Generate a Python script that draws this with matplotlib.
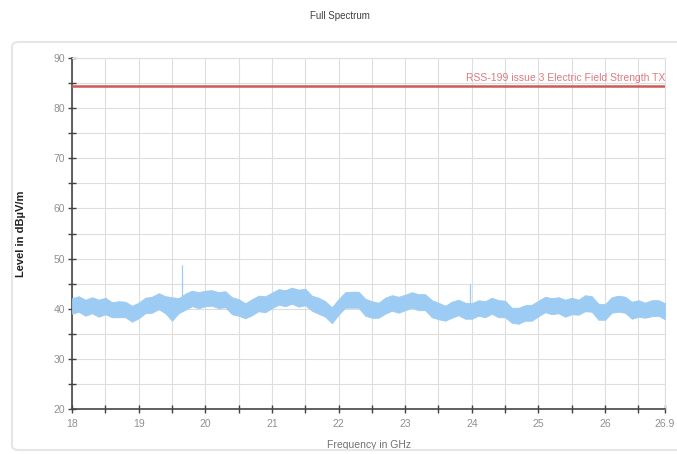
import matplotlib
matplotlib.use('Agg')
import matplotlib.pyplot as plt
from matplotlib.patches import FancyBboxPatch

plt.rcParams['font.family'] = ['Liberation Sans', 'DejaVu Sans']

# Trace (dBuV/m), upper / lower edge of the noise band
freq = [18.0, 18.1, 18.2, 18.3, 18.4, 18.5, 18.6, 18.7, 18.8, 18.9,
        19.0, 19.1, 19.2, 19.3, 19.4, 19.5, 19.6, 19.7, 19.8, 19.9,
        20.0, 20.1, 20.2, 20.3, 20.4, 20.5, 20.6, 20.7, 20.8, 20.9,
        21.0, 21.1, 21.2, 21.3, 21.4, 21.5, 21.6, 21.7, 21.8, 21.9,
        22.0, 22.1, 22.2, 22.3, 22.4, 22.5, 22.6, 22.7, 22.8, 22.9,
        23.0, 23.1, 23.2, 23.3, 23.4, 23.5, 23.6, 23.7, 23.8, 23.9,
        24.0, 24.1, 24.2, 24.3, 24.4, 24.5, 24.6, 24.7, 24.8, 24.9,
        25.0, 25.1, 25.2, 25.3, 25.4, 25.5, 25.6, 25.7, 25.8, 25.9,
        26.0, 26.1, 26.2, 26.3, 26.4, 26.5, 26.6, 26.7, 26.8, 26.9]
level_hi = [42.1, 42.5, 41.8, 42.3, 41.8, 42.2, 41.3, 41.5, 41.4, 40.6,
            41.2, 42.2, 42.4, 43.1, 42.5, 42.3, 42.1, 43.0, 43.6, 43.3,
            43.6, 43.7, 43.3, 43.5, 42.3, 41.9, 41.1, 41.9, 42.6, 42.5,
            43.2, 43.9, 43.7, 44.2, 43.8, 44.0, 42.6, 42.2, 41.5, 40.3,
            41.9, 43.3, 43.4, 43.4, 42.0, 41.5, 41.2, 42.2, 42.7, 42.4,
            42.8, 43.3, 42.9, 42.9, 41.7, 41.2, 40.6, 41.4, 41.8, 41.2,
            41.1, 41.7, 41.5, 42.2, 41.7, 41.6, 40.2, 40.2, 40.7, 40.8,
            41.6, 42.4, 42.1, 42.3, 41.8, 42.2, 41.8, 42.7, 42.5, 41.0,
            40.9, 42.3, 42.6, 42.4, 41.4, 41.7, 41.2, 41.7, 41.7, 41.1]
level_lo = [39.0, 39.4, 38.6, 39.1, 38.4, 38.9, 38.3, 38.3, 38.3, 37.4,
            38.1, 39.1, 39.2, 39.9, 39.1, 37.6, 39.1, 39.8, 40.5, 40.1,
            40.5, 40.6, 40.1, 40.3, 38.9, 38.6, 38.1, 38.7, 39.5, 39.3,
            40.1, 40.8, 40.5, 41.0, 40.4, 40.7, 39.6, 39.0, 38.4, 37.1,
            38.8, 40.2, 40.2, 40.2, 38.6, 38.2, 38.2, 39.0, 39.6, 39.2,
            39.7, 40.2, 39.7, 39.7, 38.3, 37.9, 37.6, 38.2, 38.7, 38.0,
            38.0, 38.6, 38.3, 39.0, 38.3, 38.3, 37.2, 37.0, 37.6, 37.6,
            38.5, 39.3, 38.9, 39.1, 38.4, 38.9, 38.8, 39.5, 39.4, 37.8,
            37.8, 39.2, 39.4, 39.2, 38.0, 38.4, 38.2, 38.5, 38.6, 37.9]

# isolated spikes
spike_freq = [19.65, 23.97]
spike_top = [48.8, 45.0]
spike_base = [41.5, 40.0]

limit_level = 84.5
limit_label = 'RSS-199 issue 3 Electric Field Strength TX'

x_major = [18, 19, 20, 21, 22, 23, 24, 25, 26, 26.9]
x_labels = ['18', '19', '20', '21', '22', '23', '24', '25', '26', '26.9']
x_minor = [18.5, 19.5, 20.5, 21.5, 22.5, 23.5, 24.5, 25.5, 26.5]
y_major = [20, 30, 40, 50, 60, 70, 80, 90]
y_minor = [25, 35, 45, 55, 65, 75, 85]

trace_color = '#9ccbf3'
limit_color = '#cc5a55'

fig = plt.figure(figsize=(6.77, 4.54), dpi=100)
ax = fig.add_axes([0.1064, 0.0991, 0.8759, 0.7731])

# outer frame
fig.patches.append(FancyBboxPatch((12 / 677, 4 / 454), 700 / 677, 408 / 454,
                                  boxstyle='round,pad=0,rounding_size=0.01',
                                  transform=fig.transFigure, fill=False,
                                  edgecolor='#e6e6e6', linewidth=1.5))

ax.fill_between(freq, level_lo, level_hi, color=trace_color, linewidth=0.6,
                edgecolor=trace_color, zorder=3)
ax.vlines(spike_freq, spike_base, spike_top, color=trace_color, linewidth=0.9, zorder=3)

ax.axhline(limit_level, color=limit_color, linewidth=1.8, zorder=4)
ax.text(26.9, limit_level + 0.6, limit_label, ha='right', va='bottom',
        fontsize=7.5, color='#dc7a80', zorder=5)

ax.set_xlim(18, 26.9)
ax.set_ylim(20, 90)
ax.set_xticks(x_major)
ax.set_xticklabels(x_labels)
ax.set_xticks(x_minor, minor=True)
ax.set_yticks(y_major)
ax.set_yticks(y_minor, minor=True)

ax.tick_params(which='both', direction='inout', length=6, width=1,
               color='#404040', labelsize=7.5, labelcolor='#909090')
ax.tick_params(axis='x', which='both', pad=4)
ax.tick_params(axis='y', which='both', pad=2)

ax.grid(which='both', color='#dedede', linewidth=0.8, zorder=0)
ax.set_axisbelow(True)

for side in ['top', 'right']:
    ax.spines[side].set_color('#dedede')
    ax.spines[side].set_linewidth(0.8)
for side in ['left', 'bottom']:
    ax.spines[side].set_color('#454545')
    ax.spines[side].set_linewidth(1.2)

ax.set_xlabel('Frequency in GHz', fontsize=7.5, color='#707070', labelpad=8,
              bbox=dict(facecolor='white', edgecolor='none', pad=1))
ax.set_ylabel('Level in dBµV/m', fontsize=8, fontweight='bold', color='#202020', labelpad=20)

fig.text(0.502, 0.965, 'Full Spectrum', ha='center', va='center', fontsize=7, color='#404040')

fig.savefig('out.png', dpi=100)
